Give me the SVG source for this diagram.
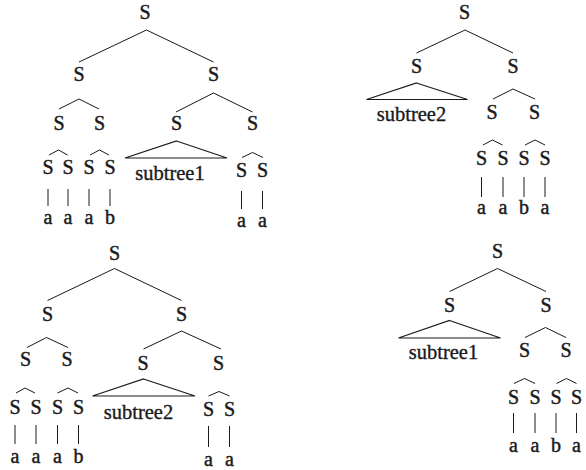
<svg xmlns="http://www.w3.org/2000/svg" width="586" height="470" viewBox="0 0 586 470">
  <style>
    .n { font-family: 'Liberation Serif', 'Times New Roman', serif; font-size: 20px; fill: #1a1a1a; stroke: #1a1a1a; stroke-width: 0.45; text-anchor: middle; }
    .st { font-family: 'Liberation Serif', 'Times New Roman', serif; font-size: 20.5px; fill: #1a1a1a; stroke: #1a1a1a; stroke-width: 0.35; text-anchor: middle; }
    .e { fill: none; stroke: #1a1a1a; stroke-width: 1; }
    .tri { fill: none; stroke: #1a1a1a; stroke-width: 1.2; stroke-linejoin: miter; }
  </style>
  <rect width="586" height="470" fill="#ffffff"/>

  <!-- connectors: branches, carets and leaf stems -->
  <g id="connectors" class="e">
    <!-- tree A (top left) -->
    <path d="M79,62 L146.5,30 L213.5,62"/>
    <path d="M59,109 L79,99 L99,109"/>
    <path d="M176,112 L213.5,93 L252.5,112"/>
    <path d="M49,155 L58.5,150 L67.5,155"/>
    <path d="M90,155 L99.5,150 L109,155"/>
    <path d="M242,157.5 L252.5,152.5 L263,157.5"/>
    <path d="M48,189V206 M68,189V206 M89,189V206 M110,189V206"/>
    <path d="M241.5,191V209 M262.5,191V209"/>
    <!-- tree B (top right) -->
    <path d="M416.5,53 L465,30 L513,53"/>
    <path d="M493,99 L513,89 L535,99"/>
    <path d="M483,145 L492.5,140 L502.5,145"/>
    <path d="M525,145 L535,140 L545,145"/>
    <path d="M481.5,177V197 M503,177V197 M524,177V197 M545,177V197"/>
    <!-- tree C (bottom left) -->
    <path d="M47.5,300.5 L114.5,268.5 L181.5,300.5"/>
    <path d="M27,347.5 L46.5,337.5 L68,347.5"/>
    <path d="M143.5,349 L181.5,331 L221,349"/>
    <path d="M16,393 L25,388 L35,393"/>
    <path d="M57.5,393 L68,388 L78,393"/>
    <path d="M208.5,396 L219,391.5 L229.5,396"/>
    <path d="M15,425V444 M36,425V444 M57.5,425V444 M78.5,425V444"/>
    <path d="M208.5,426V447 M229.5,426V447"/>
    <!-- tree D (bottom right) -->
    <path d="M449.5,291.5 L497.5,268.5 L546,291.5"/>
    <path d="M525,337.5 L545.5,327.5 L566,337.5"/>
    <path d="M514,383.5 L524.5,378.5 L535,383.5"/>
    <path d="M556.5,383.5 L566.5,378.5 L576.5,383.5"/>
    <path d="M513.5,413V433 M535,413V433 M556,413V433 M576.5,413V433"/>
  </g>

  <!-- tree A -->
  <g id="a-root"><text class="n" x="145" y="19">S</text></g>
  <g id="a-l"><text class="n" x="79" y="81">S</text></g>
  <g id="a-r"><text class="n" x="213.5" y="81">S</text></g>
  <g id="a-ll"><text class="n" x="59" y="129.5">S</text></g>
  <g id="a-lr"><text class="n" x="99.5" y="129.5">S</text></g>
  <g id="a-rl"><text class="n" x="176.5" y="129.5">S</text></g>
  <g id="a-rr"><text class="n" x="252.5" y="129.5">S</text></g>
  <g id="a-lll"><text class="n" x="48" y="174">S</text></g>
  <g id="a-llr"><text class="n" x="68" y="174">S</text></g>
  <g id="a-lrl"><text class="n" x="89" y="174">S</text></g>
  <g id="a-lrr"><text class="n" x="110" y="174">S</text></g>
  <g id="a-rrl"><text class="n" x="241.5" y="177">S</text></g>
  <g id="a-rrr"><text class="n" x="262.5" y="177">S</text></g>
  <g id="a-sub">
    <polygon class="tri" points="176.5,141 227,158 125,158"/>
    <text class="st" x="170" y="180">subtree1</text>
  </g>
  <g id="a-leaves">
    <text class="n" x="48" y="224">a</text>
    <text class="n" x="68" y="224">a</text>
    <text class="n" x="89" y="224">a</text>
    <text class="n" x="110" y="224">b</text>
    <text class="n" x="241.5" y="227">a</text>
    <text class="n" x="262.5" y="227">a</text>
  </g>

  <!-- tree B -->
  <g id="b-root"><text class="n" x="464.5" y="19">S</text></g>
  <g id="b-l"><text class="n" x="416.5" y="73">S</text></g>
  <g id="b-r"><text class="n" x="513" y="73">S</text></g>
  <g id="b-sub">
    <polygon class="tri" points="416.5,83 467.5,99.5 366.5,99.5"/>
    <text class="st" x="411.5" y="121">subtree2</text>
  </g>
  <g id="b-rl"><text class="n" x="492" y="118.5">S</text></g>
  <g id="b-rr"><text class="n" x="534.5" y="118.5">S</text></g>
  <g id="b-rll"><text class="n" x="481.5" y="164.5">S</text></g>
  <g id="b-rlr"><text class="n" x="503" y="164.5">S</text></g>
  <g id="b-rrl"><text class="n" x="524" y="164.5">S</text></g>
  <g id="b-rrr"><text class="n" x="545" y="164.5">S</text></g>
  <g id="b-leaves">
    <text class="n" x="481.5" y="214">a</text>
    <text class="n" x="503" y="214">a</text>
    <text class="n" x="524" y="214">b</text>
    <text class="n" x="545" y="214">a</text>
  </g>

  <!-- tree C -->
  <g id="c-root"><text class="n" x="114.5" y="259.5">S</text></g>
  <g id="c-l"><text class="n" x="47.5" y="321">S</text></g>
  <g id="c-r"><text class="n" x="181.5" y="321">S</text></g>
  <g id="c-ll"><text class="n" x="25.5" y="365.5">S</text></g>
  <g id="c-lr"><text class="n" x="67" y="365.5">S</text></g>
  <g id="c-rl"><text class="n" x="143" y="369.5">S</text></g>
  <g id="c-rr"><text class="n" x="218.5" y="369.5">S</text></g>
  <g id="c-lll"><text class="n" x="15" y="413.5">S</text></g>
  <g id="c-llr"><text class="n" x="36" y="413.5">S</text></g>
  <g id="c-lrl"><text class="n" x="57.5" y="413.5">S</text></g>
  <g id="c-lrr"><text class="n" x="78.5" y="413.5">S</text></g>
  <g id="c-rrl"><text class="n" x="208.5" y="416">S</text></g>
  <g id="c-rrr"><text class="n" x="229.5" y="416">S</text></g>
  <g id="c-sub">
    <polygon class="tri" points="143.5,379 195,396 92.5,396"/>
    <text class="st" x="138.5" y="418.5">subtree2</text>
  </g>
  <g id="c-leaves">
    <text class="n" x="15" y="463">a</text>
    <text class="n" x="36" y="463">a</text>
    <text class="n" x="57.5" y="463">a</text>
    <text class="n" x="78.5" y="463">b</text>
    <text class="n" x="208.5" y="465.5">a</text>
    <text class="n" x="229.5" y="465.5">a</text>
  </g>

  <!-- tree D -->
  <g id="d-root"><text class="n" x="497.5" y="258">S</text></g>
  <g id="d-l"><text class="n" x="449.5" y="312">S</text></g>
  <g id="d-r"><text class="n" x="546" y="312">S</text></g>
  <g id="d-sub">
    <polygon class="tri" points="449.5,320.5 500.5,338 398.5,338"/>
    <text class="st" x="443.5" y="359">subtree1</text>
  </g>
  <g id="d-rl"><text class="n" x="524.5" y="357">S</text></g>
  <g id="d-rr"><text class="n" x="566" y="357">S</text></g>
  <g id="d-rll"><text class="n" x="513.5" y="403.5">S</text></g>
  <g id="d-rlr"><text class="n" x="535" y="403.5">S</text></g>
  <g id="d-rrl"><text class="n" x="556" y="403.5">S</text></g>
  <g id="d-rrr"><text class="n" x="576.5" y="403.5">S</text></g>
  <g id="d-leaves">
    <text class="n" x="513.5" y="452">a</text>
    <text class="n" x="535" y="452">a</text>
    <text class="n" x="556" y="452">b</text>
    <text class="n" x="576.5" y="452">a</text>
  </g>
</svg>
